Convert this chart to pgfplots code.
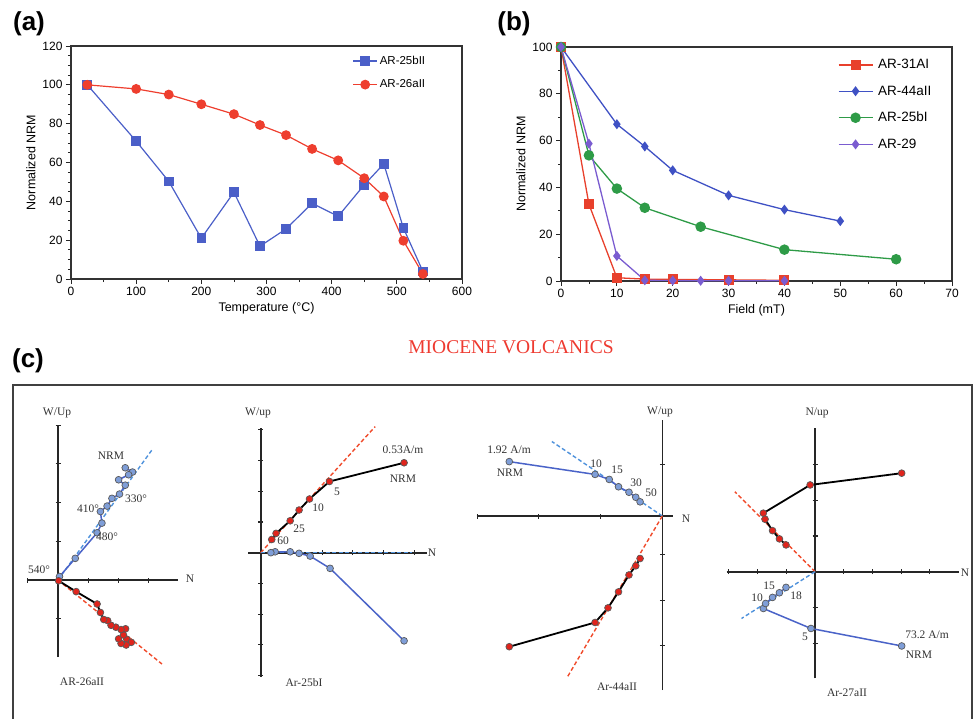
\documentclass[border=0pt]{standalone}
\usepackage{pgfplots}
\pgfplotsset{compat=1.18}
\usepackage{fontspec}
\setmainfont{Liberation Sans}
\newfontfamily\serif{Liberation Serif}
\definecolor{ablue}{HTML}{4B5FC8}
\definecolor{ared}{HTML}{EE3E2E}
\definecolor{bred}{HTML}{E8402C}
\definecolor{bblue}{HTML}{3F51C4}
\definecolor{bgreen}{HTML}{2E9B47}
\definecolor{bpurple}{HTML}{7A5CD0}
\definecolor{zline}{HTML}{4A63C8}
\definecolor{zbluef}{HTML}{7F9ED8}
\definecolor{zredf}{HTML}{E0241C}
\definecolor{zbfit}{HTML}{4F92DC}
\definecolor{zrfit}{HTML}{F04A2A}
\definecolor{titlered}{HTML}{EE3A30}
\pgfplotsset{
  topaxis/.style={scale only axis, clip=false,
    tick align=outside, tick pos=left,
    major tick length=5pt, minor tick length=3pt,
    tick style={line width=0.8pt, black!85},
    axis line style={line width=1.1pt, black!80},
    label style={font=\fontsize{12.5}{13}\selectfont},
    tick label style={font=\fontsize{12}{12}\selectfont},
    /pgf/number format/assume math mode=true,
    legend cell align=left,
    legend image code/.code={\draw[mark repeat=2,mark phase=2] plot coordinates {(0pt,0pt) (12pt,0pt) (24pt,0pt)};},
  },
  zij/.style={clip=false, axis lines=middle, axis line style={-, line width=1.6pt, black!85},
    enlargelimits=false, xticklabels={}, yticklabels={}, tick align=center,
    major tick length=5pt, tick style={line width=1.1pt, black!85}, xlabel={}, ylabel={}},
  zblue/.style={color=zline, line width=1.5pt, mark=*, mark size=3.4pt, mark options={fill=zbluef, draw=black!65, line width=0.7pt}},
  zred/.style={color=black, line width=1.8pt, mark=*, mark size=3.4pt, mark options={fill=zredf, draw=black!65, line width=0.7pt}},
  zbfitst/.style={color=zbfit, line width=1.4pt, dash pattern=on 4pt off 2.5pt, no marks},
  zrfitst/.style={color=zrfit, line width=1.4pt, dash pattern=on 4pt off 2.5pt, no marks},
}
\begin{document}
\begin{tikzpicture}
\useasboundingbox (0pt,0pt) rectangle (975pt,-718pt);
% panel letters
\node[font=\bfseries\fontsize{26}{26}\selectfont] at (29pt,-24pt) {(a)};
\node[font=\bfseries\fontsize{26}{26}\selectfont] at (514pt,-24pt) {(b)};
\node[font=\bfseries\fontsize{26}{26}\selectfont] at (28pt,-361pt) {(c)};
\node[font=\serif\fontsize{19.5}{20}\selectfont, text=titlered] at (511pt,-347pt) {MIOCENE VOLCANICS};

% (a)
\begin{axis}[topaxis, at={(71pt,-279pt)}, anchor=south west, width=391pt, height=233pt,
  xmin=0, xmax=600, ymin=0, ymax=120, xtick={0,100,...,600}, ytick={0,20,...,120},
  minor x tick num=1, minor y tick num=3,
  xlabel={Temperature (°C)}, ylabel={Normalized NRM},
  legend style={at={(0.712,0.975)}, anchor=north west, draw=none, fill=none,
    font=\fontsize{11.5}{12}\selectfont, row sep=10pt}]
\addplot[color=ablue, line width=1.2pt, mark=square*, mark size=4.2pt] coordinates {
(25,100) (100,71) (150,50.3) (200,21) (250,44.7) (290,16.9) (330,25.8) (370,39) (410,32.3) (450,48.5) (480,59.3) (510,26.3) (540,3.9)};
\addlegendentry{AR-25bII}
\addplot[color=ared, line width=1.2pt, mark=*, mark size=4.3pt] coordinates {
(25,100) (100,97.9) (150,95) (200,90) (250,84.9) (290,79.3) (330,74.1) (370,67) (410,61.1) (450,51.9) (480,42.5) (510,19.7) (540,2.6)};
\addlegendentry{AR-26aII}
\end{axis}

% (b)
\begin{axis}[topaxis, at={(561pt,-281pt)}, anchor=south west, width=391pt, height=234pt,
  xmin=0, xmax=70, ymin=0, ymax=100, xtick={0,10,...,70}, ytick={0,20,...,100},
  minor x tick num=1, minor y tick num=1,
  xlabel={Field (mT)}, ylabel={Normalized NRM},
  legend image code/.code={\draw[mark repeat=2,mark phase=2] plot coordinates {(0pt,0pt) (17pt,0pt) (34pt,0pt)};},
  legend style={at={(0.70,0.965)}, anchor=north west, draw=none, fill=none,
    font=\fontsize{13.5}{14}\selectfont, row sep=11.5pt,
    nodes={inner xsep=5pt}}]
\addplot[color=bred, line width=1.3pt, mark=square*, mark size=4.4pt] coordinates {
(0,100) (5,32.8) (10,1.4) (15,0.8) (20,0.7) (30,0.5) (40,0.3)};
\addlegendentry{AR-31AI}
\addplot[color=bblue, line width=1.3pt, mark=diamond*, mark size=4pt] coordinates {
(0,100) (10,67) (15,57.5) (20,47.3) (30,36.6) (40,30.5) (50,25.6)};
\addlegendentry{AR-44aII}
\addplot[color=bgreen, line width=1.3pt, mark=*, mark size=4.6pt] coordinates {
(0,100) (5,53.7) (10,39.5) (15,31.3) (25,23.2) (40,13.4) (60,9.3)};
\addlegendentry{AR-25bI}
\addplot[color=bpurple, line width=1.3pt, mark=diamond*, mark size=4pt] coordinates {
(0,100) (5,58.7) (10,10.7) (15,0.3) (20,0.2) (25,0.1) (30,0.1) (40,0.1)};
\addlegendentry{AR-29}
\end{axis}

% (c) frame
\draw[line width=1.6pt, black!75] (13pt,-720pt) -- (13pt,-385pt) -- (972pt,-385pt) -- (972pt,-720pt);

% diagram 1
\begin{axis}[zij, at={(58pt,-580pt)}, anchor=origin, x=30.3pt, y=38.7pt,
  xmin=-1.02, xmax=3.96, ymin=-1.99, ymax=4.0, xtick={-1,1,2,3}, ytick={-2,-1,1,2,3,4}]
\addplot[zbfitst] coordinates {(0,0) (3.1,3.36)};
\addplot[zrfitst] coordinates {(0,0) (3.43,-2.17)};
\addplot[zblue] coordinates {(2.22,2.90) (2.46,2.79) (2.33,2.72) (2.0,2.59) (2.22,2.45) (2.03,2.22) (1.78,2.11) (1.62,1.91) (1.40,1.77) (1.45,1.47) (1.29,1.22) (0.57,0.56) (0.05,0.09)};
\addplot[zred] coordinates {(2.27,-1.53) (2.42,-1.61) (2.25,-1.68) (2.08,-1.64) (2.0,-1.52) (2.16,-1.42) (2.23,-1.26) (2.08,-1.28) (1.91,-1.22) (1.75,-1.17) (1.64,-1.05) (1.51,-1.02) (1.40,-0.84) (1.29,-0.62) (0.60,-0.30) (0.02,-0.02)};
\end{axis}

% diagram 2
\begin{axis}[zij, at={(260.7pt,-552.7pt)}, anchor=origin, x=30.7pt, y=30.7pt,
  xmin=-0.41, xmax=5.42, ymin=-4.04, ymax=4.05, xtick={1,2,3,4,5}, ytick={-4,-3,-2,-1,1,2,3,4}]
\addplot[zrfitst] coordinates {(0,0) (3.73,4.11)};
\addplot[zbfitst] coordinates {(0,0) (4.92,0)};
\addplot[zred] coordinates {(4.67,2.93) (2.24,2.32) (1.59,1.75) (1.25,1.39) (0.96,1.04) (0.5,0.63) (0.36,0.43)};
\addplot[zblue] coordinates {(4.67,-2.87) (2.26,-0.51) (1.61,-0.11) (1.25,-0.02) (0.96,0.03) (0.47,0.03) (0.33,0)};
\end{axis}

% diagram 3
\begin{axis}[zij, at={(662.3pt,-516pt)}, anchor=origin, x=61.7pt, y=45.7pt,
  xmin=-3.01, xmax=0.18, ymin=-3.81, ymax=2.1, xtick={-3,-2,-1}, ytick={1.12,-0.85,-1.84,-2.83}]
\addplot[zbfitst] coordinates {(0,0) (-1.79,1.63)};
\addplot[zrfitst] coordinates {(0,0) (-1.55,-3.55)};
\addplot[zblue] coordinates {(-2.48,1.19) (-1.09,0.91) (-0.86,0.80) (-0.71,0.64) (-0.54,0.52) (-0.43,0.41) (-0.36,0.31)};
\addplot[zred] coordinates {(-2.48,-2.86) (-1.09,-2.33) (-0.88,-2.01) (-0.71,-1.66) (-0.54,-1.29) (-0.43,-1.09) (-0.36,-0.93)};
\end{axis}

% diagram 4
\begin{axis}[zij, at={(815pt,-571.7pt)}, anchor=origin, x=28.7pt, y=35.7pt,
  xmin=-3.08, xmax=5.0, ymin=-2.99, ymax=4.02, xtick={-3,-2,-1,1,2,3,4}, ytick={-3,-2,-1,1,2,3}]
\addplot[zrfitst] coordinates {(0,0) (-2.79,2.24)};
\addplot[zbfitst] coordinates {(0,0) (-2.56,-1.31)};
\addplot[zred] coordinates {(3.02,2.76) (-0.17,2.43) (-1.80,1.64) (-1.74,1.47) (-1.48,1.15) (-1.24,0.92) (-1.01,0.75)};
\addplot[zblue] coordinates {(3.02,-2.08) (-0.14,-1.59) (-1.80,-1.03) (-1.72,-0.89) (-1.48,-0.72) (-1.24,-0.59) (-1.01,-0.44)};
\end{axis}

% (c) labels
\begin{scope}[every node/.style={font=\serif\fontsize{11.5}{12}\selectfont, text=black!80, inner sep=0pt}]
\node at (57pt,-413pt) {W/Up};
\node at (190pt,-579pt) {N};
\node at (111pt,-456pt) {NRM};
\node at (136pt,-499pt) {330°};
\node at (88pt,-509pt) {410°};
\node at (107pt,-537pt) {480°};
\node at (39pt,-570pt) {540°};
\node at (82pt,-682pt) {AR-26aII};
\node at (258pt,-413pt) {W/up};
\node at (432pt,-553pt) {N};
\node at (403pt,-450pt) {0.53A/m};
\node at (403pt,-479pt) {NRM};
\node at (337pt,-492pt) {5};
\node at (318pt,-508pt) {10};
\node at (299pt,-529pt) {25};
\node at (283pt,-541pt) {60};
\node at (304pt,-683pt) {Ar-25bI};
\node at (660pt,-412pt) {W/up};
\node at (686pt,-519pt) {N};
\node at (509pt,-450pt) {1.92 A/m};
\node at (510pt,-473pt) {NRM};
\node at (596pt,-464pt) {10};
\node at (617pt,-470pt) {15};
\node at (636pt,-483pt) {30};
\node at (651pt,-493pt) {50};
\node at (617pt,-687pt) {Ar-44aII};
\node at (817pt,-413pt) {N/up};
\node at (965pt,-573pt) {N};
\node at (769pt,-586pt) {15};
\node at (796pt,-596pt) {18};
\node at (757pt,-598pt) {10};
\node at (805pt,-637pt) {5};
\node at (927pt,-635pt) {73.2 A/m};
\node at (919pt,-655pt) {NRM};
\node at (847pt,-693pt) {Ar-27aII};
\end{scope}
\end{tikzpicture}
\end{document}
